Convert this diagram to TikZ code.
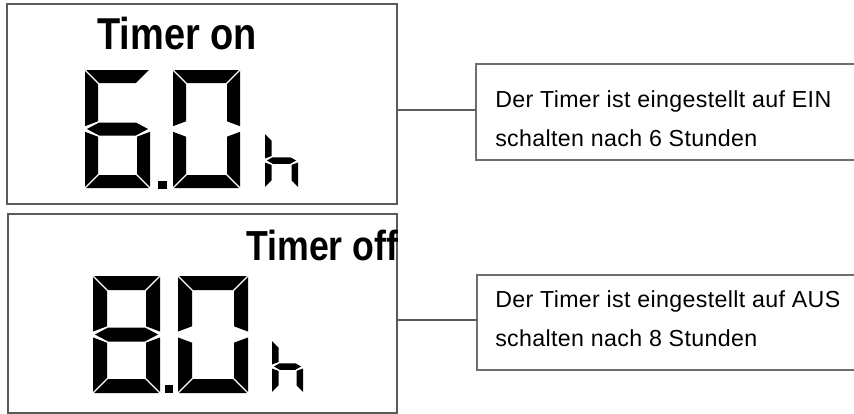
\documentclass[tikz,border=0pt]{standalone}
\usepackage{fontspec}
\setmainfont{Liberation Sans}[LetterSpace=1.5]
\newfontfamily\lcdfont{Liberation Sans Bold}[FakeStretch=0.85]
\definecolor{boxgray}{RGB}{90,90,90}
\definecolor{descgray}{RGB}{110,110,110}
\tikzset{
  lcdbox/.style={draw=boxgray, line width=1.5pt, rectangle, outer sep=0pt, inner sep=0pt, anchor=north west},
  descbox/.style={draw=descgray, line width=1.1pt, rectangle, outer sep=0pt, inner sep=0pt, anchor=north west},
  conn/.style={draw=boxgray, line width=0.9pt},
  desc/.style={anchor=base west, inner sep=0pt, font=\fontsize{17.4}{20}\selectfont},
  lcdtitle/.style={anchor=base west, inner sep=0pt},
  lcd/.style={fill=black, draw=none}
}
\def\lgap{1.2}
\newcommand\lcdsega{\fill[lcd] (\lcxAg,\lcyA) -- (\lcxBg,\lcyA) -- (\lcxBTg,\lcyAT) -- (\lcxATg,\lcyAT) -- cycle;}
\newcommand\lcdsegd{\fill[lcd] (\lcxAg,\lcyB) -- (\lcxBg,\lcyB) -- (\lcxBTg,\lcyBT) -- (\lcxATg,\lcyBT) -- cycle;}
\newcommand\lcdsegf{\fill[lcd] (\lcxA,\lcyAg) -- (\lcxAT,\lcyATg) -- (\lcxAT,\lcyMHu) -- (\lcxA,\lcyMu) -- cycle;}
\newcommand\lcdsege{\fill[lcd] (\lcxA,\lcyBg) -- (\lcxAT,\lcyBTg) -- (\lcxAT,\lcyMHd) -- (\lcxA,\lcyMd) -- cycle;}
\newcommand\lcdsegb{\fill[lcd] (\lcxB,\lcyAg) -- (\lcxBT,\lcyATg) -- (\lcxBT,\lcyMHu) -- (\lcxB,\lcyMu) -- cycle;}
\newcommand\lcdsegc{\fill[lcd] (\lcxB,\lcyBg) -- (\lcxBT,\lcyBTg) -- (\lcxBT,\lcyMHd) -- (\lcxB,\lcyMd) -- cycle;}
\newcommand\lcdsegg{\fill[lcd] (\lcxAp,\lcyM) -- (\lcxATg,\lcyMa) -- (\lcxBTg,\lcyMa) -- (\lcxBp,\lcyM) -- (\lcxBTg,\lcyMb) -- (\lcxATg,\lcyMb) -- cycle;}
\newcommand\lcddigit[6]{%
  \pgfmathsetmacro\lcxA{#1}%
  \pgfmathsetmacro\lcxAg{#1+\lgap}%
  \pgfmathsetmacro\lcxAp{#1+1.6*\lgap}%
  \pgfmathsetmacro\lcxAT{#1+#5}%
  \pgfmathsetmacro\lcxATg{#1+#5+\lgap}%
  \pgfmathsetmacro\lcxB{#3}%
  \pgfmathsetmacro\lcxBg{#3-\lgap}%
  \pgfmathsetmacro\lcxBp{#3-1.6*\lgap}%
  \pgfmathsetmacro\lcxBT{#3-#5}%
  \pgfmathsetmacro\lcxBTg{#3-#5-\lgap}%
  \pgfmathsetmacro\lcyA{#2}%
  \pgfmathsetmacro\lcyAg{#2+\lgap}%
  \pgfmathsetmacro\lcyAT{#2+#5}%
  \pgfmathsetmacro\lcyATg{#2+#5+\lgap}%
  \pgfmathsetmacro\lcyB{#4}%
  \pgfmathsetmacro\lcyBg{#4-\lgap}%
  \pgfmathsetmacro\lcyBT{#4-#5}%
  \pgfmathsetmacro\lcyBTg{#4-#5-\lgap}%
  \pgfmathsetmacro\lcyM{(#2+#4)/2}%
  \pgfmathsetmacro\lcyMa{(#2+#4)/2-#5/2}%
  \pgfmathsetmacro\lcyMb{(#2+#4)/2+#5/2}%
  \pgfmathsetmacro\lcyMHu{(#2+#4)/2-#5/2-\lgap}%
  \pgfmathsetmacro\lcyMHd{(#2+#4)/2+#5/2+\lgap}%
  \pgfmathsetmacro\lcyMu{(#2+#4)/2-\lgap-#5/8}%
  \pgfmathsetmacro\lcyMd{(#2+#4)/2+\lgap+#5/8}%
  \foreach \lcs in {#6}{\csname lcdseg\lcs\endcsname}}
\begin{document}
\begin{tikzpicture}[x=0.75pt,y=-0.75pt]
\useasboundingbox (0,0) rectangle (854,414);
\clip (0,0) rectangle (854,414);
\fill[white] (0,0) rectangle (854,414);

% LCD panels
\node[lcdbox, minimum width=292.5pt, minimum height=150pt] (lcd1) at (7,4) {};
\node[lcdbox, minimum width=291.75pt, minimum height=149.25pt] (lcd2) at (8,214) {};

% description boxes
\node[descbox, minimum width=318pt, minimum height=72pt] (txt1) at (476,64) {};
\node[descbox, minimum width=318pt, minimum height=71.25pt] (txt2) at (477,275) {};

% connectors
\draw[conn] (lcd1.east |- 0,110) -- (txt1.west |- 0,110);
\draw[conn] (lcd2.east |- 0,320) -- (txt2.west |- 0,320);

% titles
\node[lcdtitle, font=\lcdfont\fontsize{33.5}{40}\selectfont] (title1) at (97,49) {Timer on};
\node[lcdtitle, font=\lcdfont\fontsize{31.5}{38}\selectfont] (title2) at (246,260) {Timer off};

% digits panel 1: 6.0 h
\lcddigit{85}{70}{150}{188}{13}{a,f,g,e,d,c}
\lcddigit{173}{70}{240}{188}{13}{a,b,c,d,e,f}
\fill[lcd] (158,181) rectangle (167,189);
\lcddigit{265}{133}{298}{188}{6.5}{f,e,g,c}

% digits panel 2: 8.0 h
\lcddigit{93}{276}{160}{393}{14}{a,b,c,d,e,f,g}
\lcddigit{178}{276}{248}{393}{14}{a,b,c,d,e,f}
\fill[lcd] (165,385) rectangle (173,393);
\lcddigit{272}{340}{303}{393}{6.5}{f,e,g,c}

% descriptions
\node[desc] (d1a) at (495,107) {Der Timer ist eingestellt auf EIN};
\node[desc] (d1b) at (495,146) {schalten nach 6 Stunden};
\node[desc] (d2a) at (495,307) {Der Timer ist eingestellt auf AUS};
\node[desc] (d2b) at (495,346) {schalten nach 8 Stunden};
\end{tikzpicture}
\end{document}
